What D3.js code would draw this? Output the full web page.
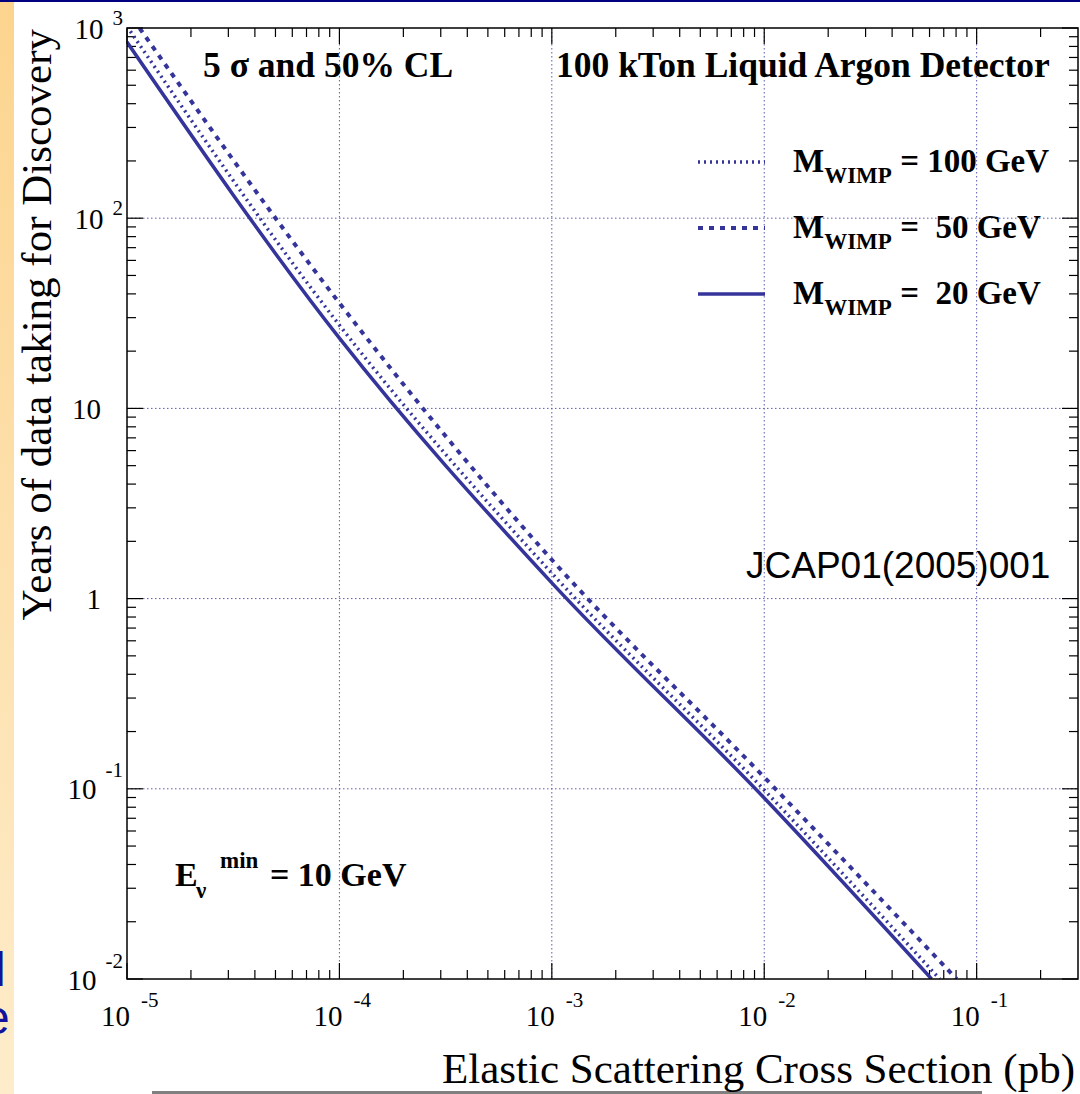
<!DOCTYPE html>
<html>
<head>
<meta charset="utf-8">
<script src="https://cdn.jsdelivr.net/npm/d3@7"></script>
<style>
  body { margin: 0; background: #fff; }
  text { white-space: pre; }
</style>
</head>
<body>
<script>
// cross section (pb) vs years of data taking
var sigma100 = [1e-5, 1e-4, 1e-3, 1e-2, 0.067];
var years100 = [1020, 27.4, 1.36, 0.0986, 0.01];
var sigma50 = [1e-5, 1e-4, 1e-3, 1e-2, 0.0805];
var years50 = [1240, 35.8, 1.60, 0.115, 0.01];
var sigma20 = [1e-5, 1e-4, 1e-3, 1e-2, 0.0614];
var years20 = [843, 23.4, 1.21, 0.0895, 0.01];

var xTickExps = [-5, -4, -3, -2, -1];
var yTickLabels = [
  { v: 1e-2, base: "10", exp: "-2" },
  { v: 1e-1, base: "10", exp: "-1" },
  { v: 1, base: "1", exp: "" },
  { v: 10, base: "10", exp: "" },
  { v: 100, base: "10", exp: "2" },
  { v: 1000, base: "10", exp: "3" }
];
var legendLabels = [" = 100 GeV", " =  50 GeV", " =  20 GeV"];

var W = 1080, H = 1094;
var L = 127, R = 1078, T = 28, B = 979;
var col = "#34349a";
var serif = "Liberation Serif, Times New Roman, serif";

var svg = d3.select("body").append("svg").attr("width", W).attr("height", H);

// slide leftovers: top bar and side strip
var defs = svg.append("defs");
var grad = defs.append("linearGradient").attr("id", "strip")
  .attr("x1", 0).attr("x2", 0).attr("y1", 0).attr("y2", 1);
grad.append("stop").attr("offset", "0%").attr("stop-color", "#fcd48e");
grad.append("stop").attr("offset", "100%").attr("stop-color", "#feecca");
svg.append("rect").attr("x", 0).attr("y", 0).attr("width", 14).attr("height", H).attr("fill", "url(#strip)");
svg.append("rect").attr("x", 0).attr("y", 0).attr("width", W).attr("height", 2).attr("fill", "#000080");
defs.append("clipPath").attr("id", "stripclip").append("rect")
  .attr("x", 0).attr("y", 0).attr("width", 14).attr("height", H);
var stripText = svg.append("g").attr("clip-path", "url(#stripclip)")
  .style("font-family", "Liberation Sans, Arial, sans-serif").attr("fill", "#12129e");
stripText.append("text").attr("x", -5).attr("y", 986).attr("font-size", 48).text("l");
stripText.append("text").attr("x", -17).attr("y", 1034).attr("font-size", 48).text("e");
svg.append("rect").attr("x", 152).attr("y", 1091).attr("width", 830).attr("height", 3).attr("fill", "#808080");

var x = d3.scaleLog().domain([1e-5, 0.3]).range([L, R]);
var y = d3.scaleLog().domain([1e-2, 1e3]).range([B, T]);

// grid
var xMajor = xTickExps.map(e => Math.pow(10, e)).filter(v => x(v) > L + 1);
var yMajor = yTickLabels.map(d => d.v).filter(v => y(v) > T + 1 && y(v) < B - 1);
var grid = svg.append("g").attr("stroke", "#5a5ab8").attr("stroke-width", 1)
  .attr("stroke-dasharray", "1.5,2.5");
grid.selectAll("line.gx").data(xMajor).enter().append("line")
  .attr("x1", d => x(d)).attr("x2", d => x(d)).attr("y1", T).attr("y2", B);
grid.selectAll("line.gy").data(yMajor).enter().append("line")
  .attr("y1", d => y(d)).attr("y2", d => y(d)).attr("x1", L).attr("x2", R);

// ticks on all four sides, pointing inward
var xTicks = [];
for (var e = -5; e <= -1; e++) for (var m = 1; m <= 9; m++) {
  var v = m * Math.pow(10, e);
  if (v >= 1e-5 && v <= 0.3) xTicks.push({ v: v, major: m === 1 });
}
var yTicks = [];
for (var e = -2; e <= 3; e++) for (var m = 1; m <= 9; m++) {
  var v = m * Math.pow(10, e);
  if (v >= 1e-2 && v <= 1e3) yTicks.push({ v: v, major: m === 1 });
}
var ticks = svg.append("g").attr("stroke", "#000").attr("stroke-width", 1.2);
ticks.selectAll("line.xb").data(xTicks).enter().append("line")
  .attr("x1", d => x(d.v)).attr("x2", d => x(d.v))
  .attr("y1", B).attr("y2", d => B - (d.major ? 16 : 9));
ticks.selectAll("line.xt").data(xTicks).enter().append("line")
  .attr("x1", d => x(d.v)).attr("x2", d => x(d.v))
  .attr("y1", T).attr("y2", d => T + (d.major ? 16 : 9));
ticks.selectAll("line.yl").data(yTicks).enter().append("line")
  .attr("y1", d => y(d.v)).attr("y2", d => y(d.v))
  .attr("x1", L).attr("x2", d => L + (d.major ? 16 : 9));
ticks.selectAll("line.yr").data(yTicks).enter().append("line")
  .attr("y1", d => y(d.v)).attr("y2", d => y(d.v))
  .attr("x1", R).attr("x2", d => R - (d.major ? 16 : 9));

// curves
defs.append("clipPath").attr("id", "frame").append("rect")
  .attr("x", L).attr("y", T).attr("width", R - L).attr("height", B - T);
var line = d3.line().x(d => x(d[0])).y(d => y(d[1])).curve(d3.curveMonotoneX);
var series = [
  { xs: sigma100, ys: years100, dash: "2,4", w: 3.5 },
  { xs: sigma50, ys: years50, dash: "5,6", w: 4 },
  { xs: sigma20, ys: years20, dash: null, w: 3.5 }
];
var curves = svg.append("g").attr("clip-path", "url(#frame)");
series.forEach(s => {
  curves.append("path")
    .datum(d3.zip(s.xs, s.ys))
    .attr("d", line)
    .attr("fill", "none")
    .attr("stroke", col)
    .attr("stroke-width", s.w)
    .attr("stroke-dasharray", s.dash);
});

// frame
svg.append("rect").attr("x", L).attr("y", T).attr("width", R - L).attr("height", B - T)
  .attr("fill", "none").attr("stroke", "#000").attr("stroke-width", 1.5);

// tick labels
var xl = svg.append("g").style("font-family", serif).attr("fill", "#000");
xTickExps.forEach(e => {
  var px = x(Math.pow(10, e));
  xl.append("text").attr("x", px + 3).attr("y", 1026).attr("font-size", 29)
    .attr("text-anchor", "end").text("10");
  xl.append("text").attr("x", px + 14).attr("y", 1007).attr("font-size", 21).text(String(e));
});
var yl = svg.append("g").style("font-family", serif).attr("fill", "#000");
yTickLabels.forEach(d => {
  var py = y(d.v);
  if (d.exp === "") {
    yl.append("text").attr("x", 101).attr("y", py + 10.5).attr("font-size", 29)
      .attr("text-anchor", "end").text(d.base);
  } else {
    var t = yl.append("text").attr("x", 123).attr("y", py + 10.5)
      .attr("text-anchor", "end").attr("font-size", 29);
    t.append("tspan").text(d.base);
    t.append("tspan").attr("dx", 9).attr("dy", d.exp[0] === "-" ? -22 : -14)
      .attr("font-size", 21).text(d.exp);
  }
});

// axis titles
svg.append("text").attr("x", 1075).attr("y", 1083).attr("text-anchor", "end")
  .style("font-family", serif).attr("font-size", 43).text("Elastic Scattering Cross Section (pb)");
svg.append("text").attr("transform", "translate(51,29) rotate(-90)").attr("text-anchor", "end")
  .style("font-family", serif).attr("font-size", 43).text("Years of data taking for Discovery");

// annotations
var ann = svg.append("g").style("font-family", serif).attr("font-weight", "bold").attr("fill", "#000");
ann.append("text").attr("x", 203).attr("y", 77).attr("font-size", 35.5).text("5 σ and 50% CL");
ann.append("text").attr("x", 556).attr("y", 77).attr("font-size", 35.5).text("100 kTon Liquid Argon Detector");
ann.append("text").attr("x", 175).attr("y", 886).attr("font-size", 34).text("E");
ann.append("text").attr("x", 196).attr("y", 898).attr("font-size", 23).text("ν");
ann.append("text").attr("x", 220).attr("y", 868).attr("font-size", 23).text("min");
ann.append("text").attr("x", 270).attr("y", 886).attr("font-size", 34).text("= 10 GeV");

svg.append("text").attr("x", 746).attr("y", 578)
  .style("font-family", "Liberation Sans, Arial, sans-serif").attr("font-size", 37)
  .attr("fill", "#000").text("JCAP01(2005)001");

// legend
var legendY = [162, 228, 294];
series.forEach((s, i) => {
  svg.append("line").attr("x1", 698).attr("x2", 765)
    .attr("y1", legendY[i]).attr("y2", legendY[i])
    .attr("stroke", col).attr("stroke-width", s.w).attr("stroke-dasharray", s.dash);
  var t = ann.append("text").attr("x", 793).attr("y", legendY[i] + 10).attr("font-size", 33);
  t.append("tspan").text("M");
  t.append("tspan").attr("dy", 11).attr("font-size", 23).text("WIMP");
  t.append("tspan").attr("dy", -11).text(legendLabels[i]);
});
</script>
</body>
</html>
